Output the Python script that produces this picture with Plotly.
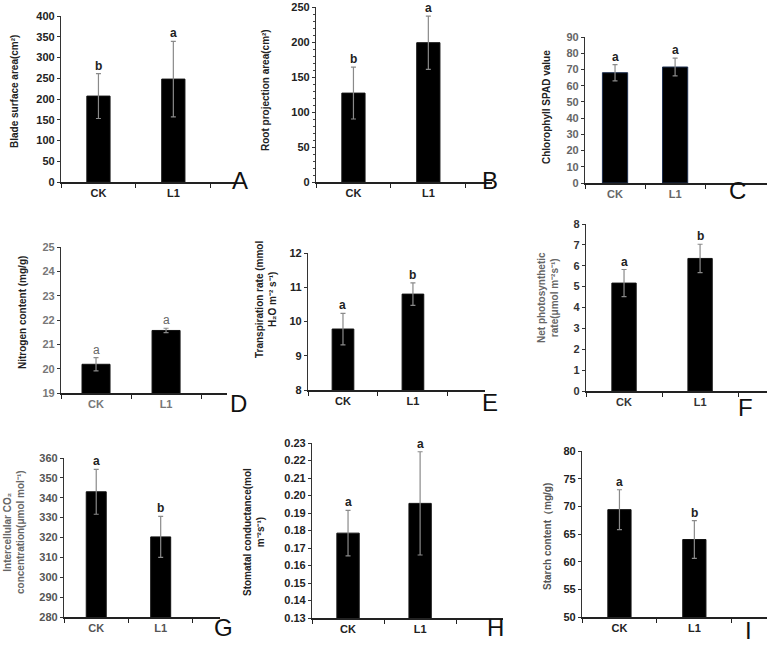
import plotly.graph_objects as go

categories = ["CK", "L1"]

blade_area = [207, 248]
blade_err = [54, 91]
blade_letters = ["b", "a"]

root_area = [127, 199]
root_err = [37, 38]
root_letters = ["b", "a"]

spad = [68, 71.5]
spad_err = [5, 5.5]
spad_letters = ["a", "a"]

nitrogen = [20.18, 21.57]
nitrogen_err = [0.27, 0.09]
nitrogen_letters = ["a", "a"]

transpiration = [9.78, 10.8]
transpiration_err = [0.46, 0.33]
transpiration_letters = ["a", "b"]

net_ps = [5.17, 6.35]
net_ps_err = [0.65, 0.68]
net_ps_letters = ["a", "b"]

ci = [343, 320.3]
ci_err = [11.3, 10.3]
ci_letters = ["a", "b"]

gs = [0.1785, 0.1955]
gs_err = [0.013, 0.0295]
gs_letters = ["a", "a"]

starch = [69.4, 64.0]
starch_err = [3.6, 3.4]
starch_letters = ["a", "b"]

W, H = 767, 645

panels = [
    dict(v=blade_area, e=blade_err, l=blade_letters, label="A", title="Blade surface area(cm²)",
         px=(61, 237), py=(16, 182), xr=1.85, yr=(0, 400), dt=50, bw=0.31,
         tpos=(15, 92), lpos=(240, 180), tc="#222"),
    dict(v=root_area, e=root_err, l=root_letters, label="B", title="Root projection area(cm²)",
         px=(316, 492), py=(7, 182), xr=1.85, yr=(0, 250), dt=50, bw=0.31,
         tpos=(265, 90), lpos=(490, 180), tc="#222", minor=10),
    dict(v=spad, e=spad_err, l=spad_letters, label="C", title="Chlorophyll SPAD value",
         px=(585, 767), py=(37, 183), xr=2.53, yr=(0, 90), dt=10, bw=0.42,
         tpos=(547, 107), lpos=(737, 190), tc="#666", edge="#1f3050"),
    dict(v=nitrogen, e=nitrogen_err, l=nitrogen_letters, label="D", title="Nitrogen content (mg/g)",
         px=(61, 227), py=(247, 393), xr=1.87, yr=(19, 25), dt=1, bw=0.40,
         tpos=(22, 313), lpos=(238, 403), tc="#777", lc="#666", lw="normal"),
    dict(v=transpiration, e=transpiration_err, l=transpiration_letters, label="E",
         title="Transpiration rate (mmol<br>H₂O m⁻² s⁻¹)",
         px=(308, 485), py=(253, 390), xr=2.03, yr=(8, 12), dt=1, bw=0.31,
         tpos=(266, 300), lpos=(490, 402), tc="#222"),
    dict(v=net_ps, e=net_ps_err, l=net_ps_letters, label="F",
         title="Net photosynthetic<br>rate(μmol m⁻²s⁻¹)",
         px=(586, 767), py=(224, 391), xr=1.88, yr=(0, 8), dt=1, bw=0.32,
         tpos=(548, 298), lpos=(745, 407), tc="#333", ttc="#666"),
    dict(v=ci, e=ci_err, l=ci_letters, label="G",
         title="Intercellular CO₂<br>concentration(μmol mol⁻¹)",
         px=(64, 220), py=(458, 617), xr=1.92, yr=(280, 360), dt=10, bw=0.31,
         tpos=(14, 532), lpos=(223, 627), tc="#555", ttc="#666"),
    dict(v=gs, e=gs_err, l=gs_letters, label="H",
         title="Stomatal conductance(mol<br>m⁻²s⁻¹)",
         px=(312, 503), py=(443, 618), xr=2.15, yr=(0.13, 0.23), dt=0.01, bw=0.31,
         tpos=(254, 532), lpos=(495, 627), tc="#222", fmt=".2f"),
    dict(v=starch, e=starch_err, l=starch_letters, label="I", title="Starch content（mg/g)",
         px=(582, 767), py=(451, 617), xr=1.97, yr=(50, 80), dt=5, bw=0.31,
         tpos=(547, 537), lpos=(748, 630), tc="#222", ttc="#555"),
]

fig = go.Figure()
annotations = []
layout = {}
FONT = "Liberation Sans, Arial, sans-serif"

for i, p in enumerate(panels, start=1):
    sfx = "" if i == 1 else str(i)
    xa, ya = "x" + sfx, "y" + sfx
    fig.add_trace(go.Bar(
        x=categories, y=p["v"], width=p["bw"],
        marker=dict(color="black", line=dict(color=p.get("edge", "#111"), width=1)),
        error_y=dict(type="data", array=p["e"], visible=True, color="#8a8a8a",
                     thickness=1.2, width=2.5),
        xaxis=xa, yaxis=ya, showlegend=False, hoverinfo="skip",
    ))
    x0, x1 = p["px"]
    y0, y1 = p["py"]
    layout["xaxis" + sfx] = dict(
        domain=[x0 / W, x1 / W], anchor=ya, type="category", automargin=False,
        range=[-0.5, p["xr"]], tickson="boundaries", ticks="outside", ticklen=4,
        tickcolor="#222", tickwidth=1.2,
        showline=True, linecolor="#222", linewidth=2, showgrid=False, zeroline=False,
        tickfont=dict(family=FONT, size=11, color=p["tc"], weight="bold"),
    )
    ydict = dict(
        domain=[1 - y1 / H, 1 - y0 / H], anchor=xa, range=list(p["yr"]), dtick=p["dt"],
        tick0=p["yr"][0], automargin=False,
        ticks="outside", ticklen=3, tickcolor="#333", tickwidth=1,
        showline=True, linecolor="#333", linewidth=1.2, showgrid=False, zeroline=False,
        tickfont=dict(family=FONT, size=11, color=p["tc"], weight="bold"),
    )
    if "fmt" in p:
        ydict["tickformat"] = p["fmt"]
    if "minor" in p:
        ydict["minor"] = dict(dtick=p["minor"], tick0=p["yr"][0], ticks="outside",
                              ticklen=2, tickcolor="#444", showgrid=False)
    layout["yaxis" + sfx] = ydict

    for c, val, err, let in zip(categories, p["v"], p["e"], p["l"]):
        txt = let if p.get("lw") == "normal" else "<b>%s</b>" % let
        annotations.append(dict(
            x=c, y=val + err, xref=xa, yref=ya, text=txt, showarrow=False,
            yanchor="bottom", yshift=-1,
            font=dict(family=FONT, size=12, color=p.get("lc", "#222")),
        ))
    tx, ty = p["tpos"]
    annotations.append(dict(
        x=tx / W, y=1 - ty / H, xref="paper", yref="paper", text="<b>%s</b>" % p["title"],
        showarrow=False, textangle=-90, xanchor="center", yanchor="middle",
        font=dict(family=FONT, size=10, color=p.get("ttc", "#222")),
    ))
    lx, ly = p["lpos"]
    annotations.append(dict(
        x=lx / W, y=1 - ly / H, xref="paper", yref="paper", text=p["label"],
        showarrow=False, xanchor="center", yanchor="middle",
        font=dict(family=FONT, size=24, color="#111"),
    ))

fig.update_layout(
    width=W, height=H, margin=dict(l=0, r=0, t=0, b=0, pad=0, autoexpand=False),
    paper_bgcolor="white", plot_bgcolor="white",
    annotations=annotations, bargap=0.5,
    **layout,
)

fig.write_html("out.html", config={"displayModeBar": False},
               post_script="document.body.style.margin='0';document.body.style.overflow='hidden';")
